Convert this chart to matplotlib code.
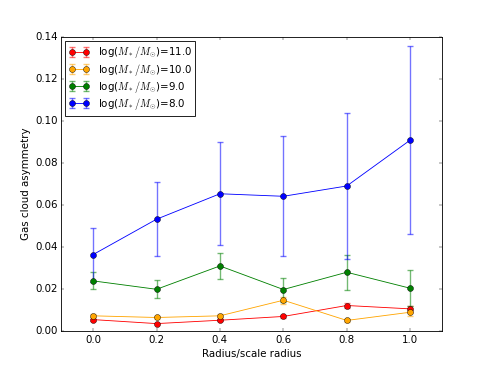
import matplotlib
matplotlib.use('Agg')
import matplotlib.pyplot as plt
from matplotlib.colors import to_rgba

plt.style.use('classic')

radius = [0.0, 0.2, 0.4, 0.6, 0.8, 1.0]

# log(M*/Msun) = 11.0
asym_11 = [0.0055, 0.0036, 0.0052, 0.0070, 0.0122, 0.0106]
err_11 = [0.0005, 0.0004, 0.0005, 0.0006, 0.0010, 0.0015]
# log(M*/Msun) = 10.0
asym_10 = [0.0073, 0.0065, 0.0073, 0.0147, 0.0051, 0.0090]
err_10 = [0.0008, 0.0006, 0.0008, 0.0017, 0.0008, 0.0020]
# log(M*/Msun) = 9.0
asym_9 = [0.0239, 0.0199, 0.0310, 0.0198, 0.0280, 0.0204]
err_9 = [0.0040, 0.0043, 0.0062, 0.0057, 0.0082, 0.0086]
# log(M*/Msun) = 8.0
asym_8 = [0.0364, 0.0532, 0.0653, 0.0641, 0.0690, 0.0908]
err_8 = [0.0128, 0.0175, 0.0245, 0.0285, 0.0345, 0.0445]

series = [
    (asym_11, err_11, 'red', '11.0'),
    (asym_10, err_10, 'orange', '10.0'),
    (asym_9, err_9, 'green', '9.0'),
    (asym_8, err_8, 'blue', '8.0'),
]

fig = plt.figure(figsize=(8, 6), dpi=61.375)
ax = fig.add_subplot(111)

for y, e, c, lab in series:
    ax.errorbar(radius, y, yerr=e, color=c, marker='o', markersize=7,
                ecolor=to_rgba(c, 0.55), elinewidth=1.6, capsize=4, capthick=1.6,
                label=r'log($M_*/M_{\odot}$)=' + lab)

ax.set_xlim(-0.1, 1.1)
ax.set_ylim(0, 0.14)
ax.set_xticks([0.0, 0.2, 0.4, 0.6, 0.8, 1.0])
ax.set_xlabel('Radius/scale radius')
ax.set_ylabel('Gas cloud asymmetry')
ax.legend(loc='upper left', fontsize='medium', labelspacing=0.12,
          borderaxespad=0.4, borderpad=0.35)

fig.savefig('out.png', dpi=61.375)
